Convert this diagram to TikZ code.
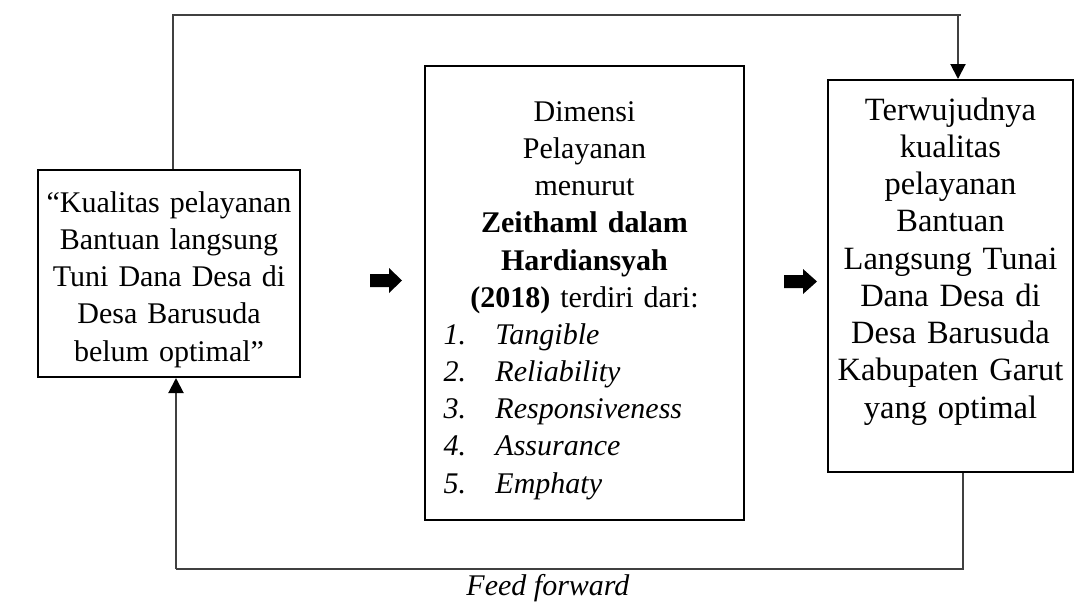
\documentclass[tikz,border=0pt]{standalone}
\usepackage{fontspec}
\setmainfont{Liberation Serif}
\usetikzlibrary{arrows.meta}
\begin{document}
\begin{tikzpicture}[x=0.4pt,y=-0.4pt,
  box/.style={draw=black, line width=0.8pt, inner sep=0pt},
  txt/.style={font=\fontsize{12}{14.9}\selectfont, inner sep=0pt, align=center, anchor=base},
  bigtxt/.style={txt, font=\fontsize{13}{14.9}\selectfont},
  conn/.style={draw=black!75, line width=0.8pt},
  tip/.style={-{Triangle[length=6pt,width=6pt,color=black]}},
  blockarrow/.style={fill=black}]
\useasboundingbox (0,0) rectangle (1088,602);
% boxes
\node[box, minimum width=104.8pt, minimum height=82.8pt] (L) at (169,273.5) {};
\node[box, minimum width=127.6pt, minimum height=181.6pt] (M) at (584.5,293) {};
\node[box, minimum width=98pt, minimum height=156.8pt] (R) at (950.5,276) {};
% texts
\node[txt, text width=102pt] (Lt) at (169,212) {``Kualitas pelayanan\\Bantuan langsung\\Tuni Dana Desa di\\Desa Barusuda\\belum optimal''};
\node[txt, text width=125pt] (Mt) at (584.5,121) {Dimensi\\Pelayanan\\menurut\\\textbf{Zeithaml dalam}\\\textbf{Hardiansyah}\\\textbf{(2018)} terdiri dari:};
\node[txt, align=left, text width=120pt, anchor=base west] (Ml) at (443,344) {%
  \makebox[20.8pt][l]{\textit{1.}}\textit{Tangible}\\
  \makebox[20.8pt][l]{\textit{2.}}\textit{Reliability}\\
  \makebox[20.8pt][l]{\textit{3.}}\textit{Responsiveness}\\
  \makebox[20.8pt][l]{\textit{4.}}\textit{Assurance}\\
  \makebox[20.8pt][l]{\textit{5.}}\textit{Emphaty}};
\node[bigtxt, text width=97pt] (Rt) at (950.5,120) {Terwujudnya\\kualitas\\pelayanan\\Bantuan\\Langsung Tunai\\Dana Desa di\\Desa Barusuda\\Kabupaten Garut\\yang optimal};
\node[txt] (ff) at (548,595) {\textit{Feed forward}};
% block arrows
\fill[blockarrow] (370,274) -- (389,274) -- (389,268) -- (402,280.5) -- (389,293) -- (389,287) -- (370,287) -- cycle;
\fill[blockarrow] (784,275) -- (803,275) -- (803,269) -- (817,281.5) -- (803,294) -- (803,288) -- (784,288) -- cycle;
% connectors
\coordinate (t1) at (173,15);
\coordinate (t2) at (961,15);
\coordinate (b1) at (963,569);
\coordinate (b2) at (176,569);
\draw[conn] (L.north -| t1) -- (t1) -- (t2);
\draw[conn, tip] (958,15) -- (R.north -| 958,0);
\draw[conn] (R.south -| b1) -- (b1) -- (b2);
\draw[conn, tip] (b2) -- (L.south -| b2);
\end{tikzpicture}
\end{document}
